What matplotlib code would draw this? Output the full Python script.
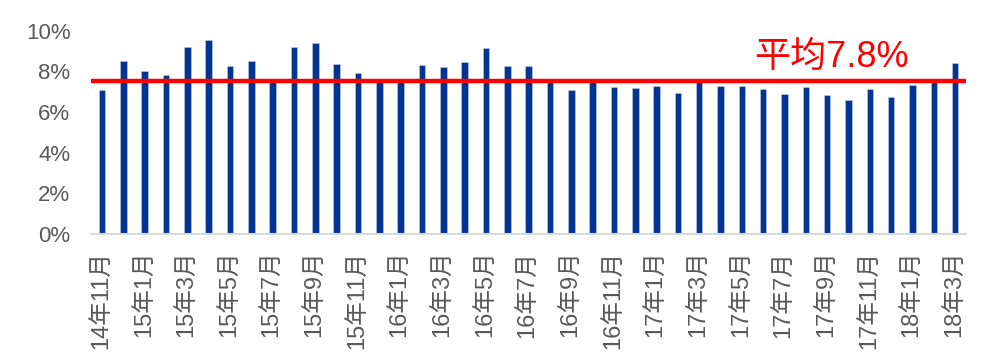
import matplotlib
matplotlib.use("Agg")
import matplotlib.pyplot as plt
import matplotlib.transforms as mtransforms
from matplotlib.ticker import FuncFormatter

months = ["14年11月", "14年12月",
          "15年1月", "15年2月", "15年3月", "15年4月", "15年5月", "15年6月",
          "15年7月", "15年8月", "15年9月", "15年10月", "15年11月", "15年12月",
          "16年1月", "16年2月", "16年3月", "16年4月", "16年5月", "16年6月",
          "16年7月", "16年8月", "16年9月", "16年10月", "16年11月", "16年12月",
          "17年1月", "17年2月", "17年3月", "17年4月", "17年5月", "17年6月",
          "17年7月", "17年8月", "17年9月", "17年10月", "17年11月", "17年12月",
          "18年1月", "18年2月", "18年3月"]
values = [7.09, 8.51, 8.02, 7.83, 9.17, 9.53, 8.24, 8.51, 7.45, 9.17,
          9.40, 8.35, 7.94, 7.45, 7.45, 8.32, 8.19, 8.48, 9.15, 8.27,
          8.24, 7.45, 7.06, 7.45, 7.24, 7.19, 7.30, 6.91, 7.45, 7.27,
          7.27, 7.12, 6.88, 7.24, 6.85, 6.60, 7.12, 6.72, 7.32, 7.45,
          8.41]
avg_line = 7.5
avg_label = "平均7.8%"
yticks = [0, 2, 4, 6, 8, 10]

plt.rcParams['font.family'] = ['Liberation Sans', 'Noto Sans CJK SC']

fig = plt.figure(figsize=(10, 3.6), dpi=100)
ax = fig.add_axes([0.0913, 0.35, 0.8745, 0.565])

x = list(range(len(values)))
ax.bar(x, values, width=0.31, color='#003591', edgecolor='#c5cde6', linewidth=0.4, zorder=2)
ax.axhline(avg_line, color='#ff0000', linewidth=3.2, zorder=3)
ax.text(34.2, 8.7, avg_label, color='#ff0000', fontsize=26, ha='center', va='center')

ax.set_xlim(-0.5, len(values) - 0.5)
ax.set_ylim(0, 10)
ax.set_yticks(yticks)
ax.yaxis.set_major_formatter(FuncFormatter(lambda v, p: f"{v:.0f}%"))
ax.set_xticks(x[::2])
ax.set_xticklabels(months[::2], rotation=90, ha='center', va='top')

offset = mtransforms.ScaledTranslation(0.07, 0, fig.dpi_scale_trans)
for lab in ax.get_xticklabels():
    lab.set_transform(lab.get_transform() + offset)

for s in ['top', 'right', 'left']:
    ax.spines[s].set_visible(False)
ax.spines['bottom'].set_color('#d9d9d9')
ax.spines['bottom'].set_linewidth(1.5)

ax.tick_params(axis='y', length=0, pad=15, labelsize=16, labelcolor='#595959')
ax.tick_params(axis='x', length=0, pad=12, labelsize=17, labelcolor='#595959')

fig.savefig("out.png", dpi=100)
